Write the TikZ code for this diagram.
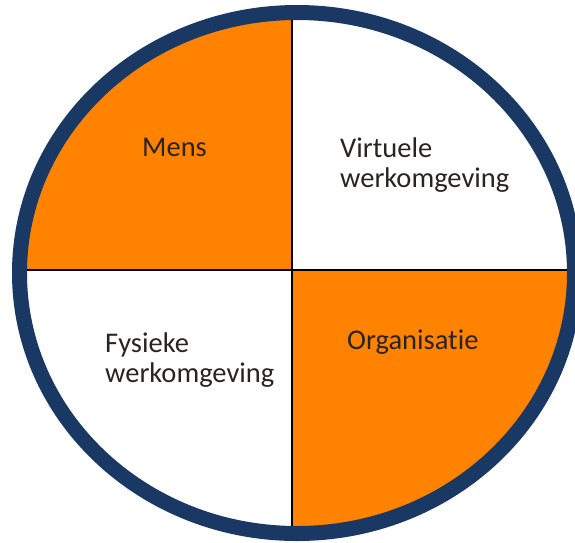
\documentclass[tikz,border=0pt]{standalone}
\usepackage{fontspec}
\setmainfont{Carlito}[Ligatures=CommonOff]
\usepackage{tikz}
\usetikzlibrary{positioning}
\definecolor{ringblue}{RGB}{25,56,99}
\definecolor{quadorange}{RGB}{255,130,0}
\definecolor{labeltext}{RGB}{40,36,34}
\tikzstyle{quadlabel} = [inner sep=0pt, anchor=base west, align=left, text=labeltext, font=\fontsize{28.5}{30}\selectfont]
\tikzstyle{divider} = [draw=black, line width=1.3pt]

\begin{document}
\begin{tikzpicture}[
    x=1pt, y=-1pt,
    ring/.style={draw=ringblue, line width=15pt}
]
\clip (0,0) rectangle (575,542);

% Quadrants
\begin{scope}
  \clip (297,273) ellipse [x radius=272, y radius=255];
  \fill[quadorange] (0,0) rectangle (292,270);
  \fill[quadorange] (292,270) rectangle (600,560);
  \draw[divider] (0,270) -- (600,270);
  \draw[divider] (292,0) -- (292,560);
\end{scope}

% Ring
\draw[ring] (297,273) ellipse [x radius=277.5, y radius=260.5];

% Nodes
\node (mens) [quadlabel] at (142,156) {Mens};
\node (virtueel) [quadlabel] at (340,187) {Virtuele\\werkomgeving};
\node (fysiek) [quadlabel] at (105,382) {Fysieke\\werkomgeving};
\node (organisatie) [quadlabel] at (347,349) {Organisatie};

\end{tikzpicture}
\end{document}
